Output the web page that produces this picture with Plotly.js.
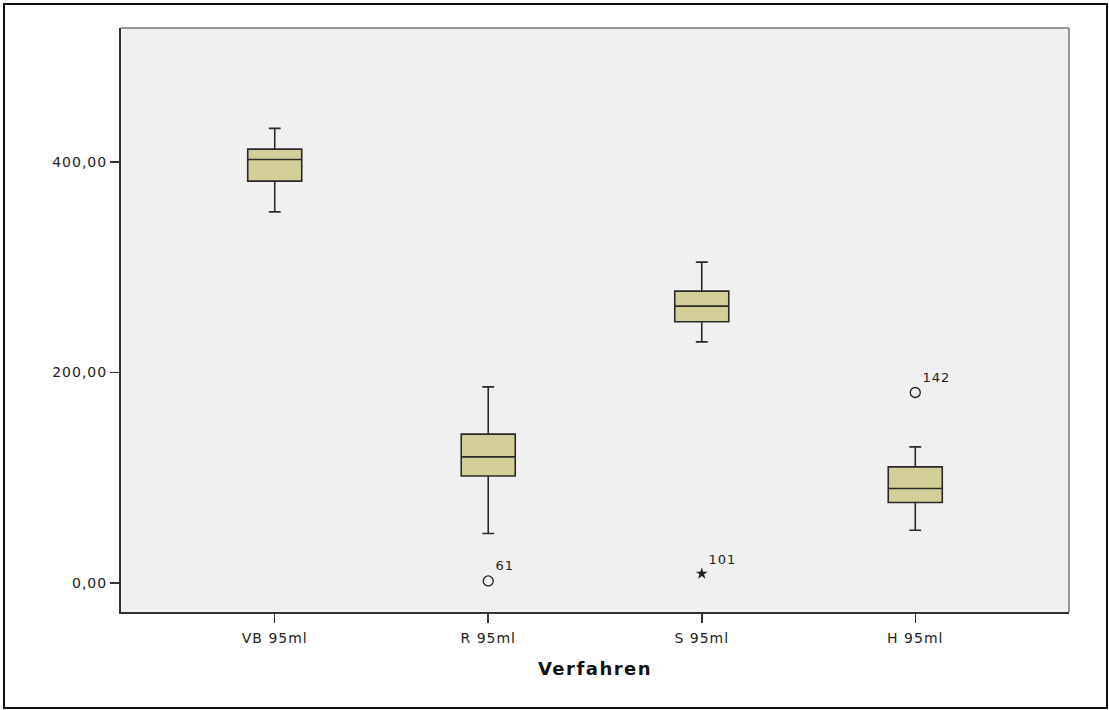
<!DOCTYPE html>
<html>
<head>
<meta charset="utf-8">
<script src="https://cdn.plot.ly/plotly-3.0.1.min.js"></script>
<style>
  html, body { margin: 0; padding: 0; background: #fff; }
  #wrap { position: relative; width: 1109px; height: 710px; }
  #chart { position: absolute; left: 0; top: 0; width: 1109px; height: 710px; }
  #frame { position: absolute; left: 3px; top: 3px; width: 1101px; height: 702px; border: 2px solid #111; pointer-events: none; }
  #chart .xtick text, #chart .ytick text, #chart .textpoint text { letter-spacing: 1px; }
  #chart .xtitle { letter-spacing: 1.5px; }
</style>
</head>
<body>
<div id="wrap"><div id="chart"></div><div id="frame"></div></div>
<script>
// Categories
const categories = ["VB 95ml", "R 95ml", "S 95ml", "H 95ml"];
// Box statistics
const lowerWhisker = [352.7, 47.0, 229.1, 50.1];
const q1Values     = [381.9, 101.7, 248.2, 76.4];
const medianValues = [402.5, 119.8, 263.1, 89.7];
const q3Values     = [412.3, 141.4, 277.3, 110.3];
const upperWhisker = [432.0, 186.3, 304.9, 129.3];
// Outliers (circles) and extremes (stars)
const outlierCats   = ["R 95ml", "H 95ml"];
const outlierValues = [1.9, 181.0];
const outlierLabels = ["61", "142"];
const extremeCats   = ["S 95ml"];
const extremeValues = [8.9];
const extremeLabels = ["101"];
// Axis ticks
const yTickVals = [0, 200, 400];
const yTickText = ["0,00", "200,00", "400,00"];
const xTitle = "Verfahren";

const font = "DejaVu Sans, Verdana, sans-serif";

const traces = [
  {
    type: "box",
    x: categories,
    q1: q1Values,
    median: medianValues,
    q3: q3Values,
    lowerfence: lowerWhisker,
    upperfence: upperWhisker,
    boxpoints: false,
    width: 0.253,
    whiskerwidth: 0.22,
    fillcolor: "#D4CF98",
    line: { color: "#2a2a2a", width: 1.6 },
    hoverinfo: "skip",
    showlegend: false
  },
  {
    type: "scatter",
    mode: "markers+text",
    x: outlierCats,
    y: outlierValues,
    text: outlierLabels,
    textposition: "top right",
    textfont: { family: font, size: 13, color: "#222" },
    marker: { symbol: "circle-open", size: 10, color: "#222", line: { width: 1.3, color: "#222" } },
    cliponaxis: false,
    showlegend: false
  },
  {
    type: "scatter",
    mode: "markers+text",
    x: extremeCats,
    y: extremeValues,
    text: extremeLabels,
    textposition: "top right",
    textfont: { family: font, size: 13, color: "#222" },
    marker: { symbol: "star", size: 9, color: "#222", line: { width: 0 } },
    cliponaxis: false,
    showlegend: false
  }
];

const layout = {
  width: 1109,
  height: 710,
  margin: { l: 121, r: 40, t: 28, b: 98, pad: 0 },
  paper_bgcolor: "#ffffff",
  plot_bgcolor: "#F0F0F0",
  font: { family: font, size: 13, color: "#222" },
  showlegend: false,
  xaxis: {
    type: "category",
    categoryorder: "array",
    categoryarray: categories,
    range: [-0.72, 3.72],
    showgrid: false,
    zeroline: false,
    showline: true,
    linecolor: "#333",
    linewidth: 2,
    ticks: "outside",
    ticklen: 9,
    tickwidth: 1.5,
    tickcolor: "#333",
    ticklabelstandoff: 3,
    tickfont: { family: font, size: 14, color: "#222" },
    title: { text: xTitle, font: { family: font, size: 18, color: "#111", weight: "bold" }, standoff: 18 }
  },
  yaxis: {
    range: [-27.6, 527.4],
    tickvals: yTickVals,
    ticktext: yTickText,
    showgrid: false,
    zeroline: false,
    showline: true,
    linecolor: "#333",
    linewidth: 2,
    ticks: "outside",
    ticklen: 9,
    tickwidth: 1.5,
    tickcolor: "#333",
    tickfont: { family: font, size: 14, color: "#222" }
  },
  shapes: [
    { type: "line", xref: "paper", yref: "paper", x0: 0, x1: 1, y0: 1, y1: 1, line: { color: "#777", width: 1.5 } },
    { type: "line", xref: "paper", yref: "paper", x0: 1, x1: 1, y0: 0, y1: 1, line: { color: "#777", width: 1.5 } }
  ]
};

Plotly.newPlot("chart", traces, layout, { displayModeBar: false, staticPlot: true });
</script>
</body>
</html>
